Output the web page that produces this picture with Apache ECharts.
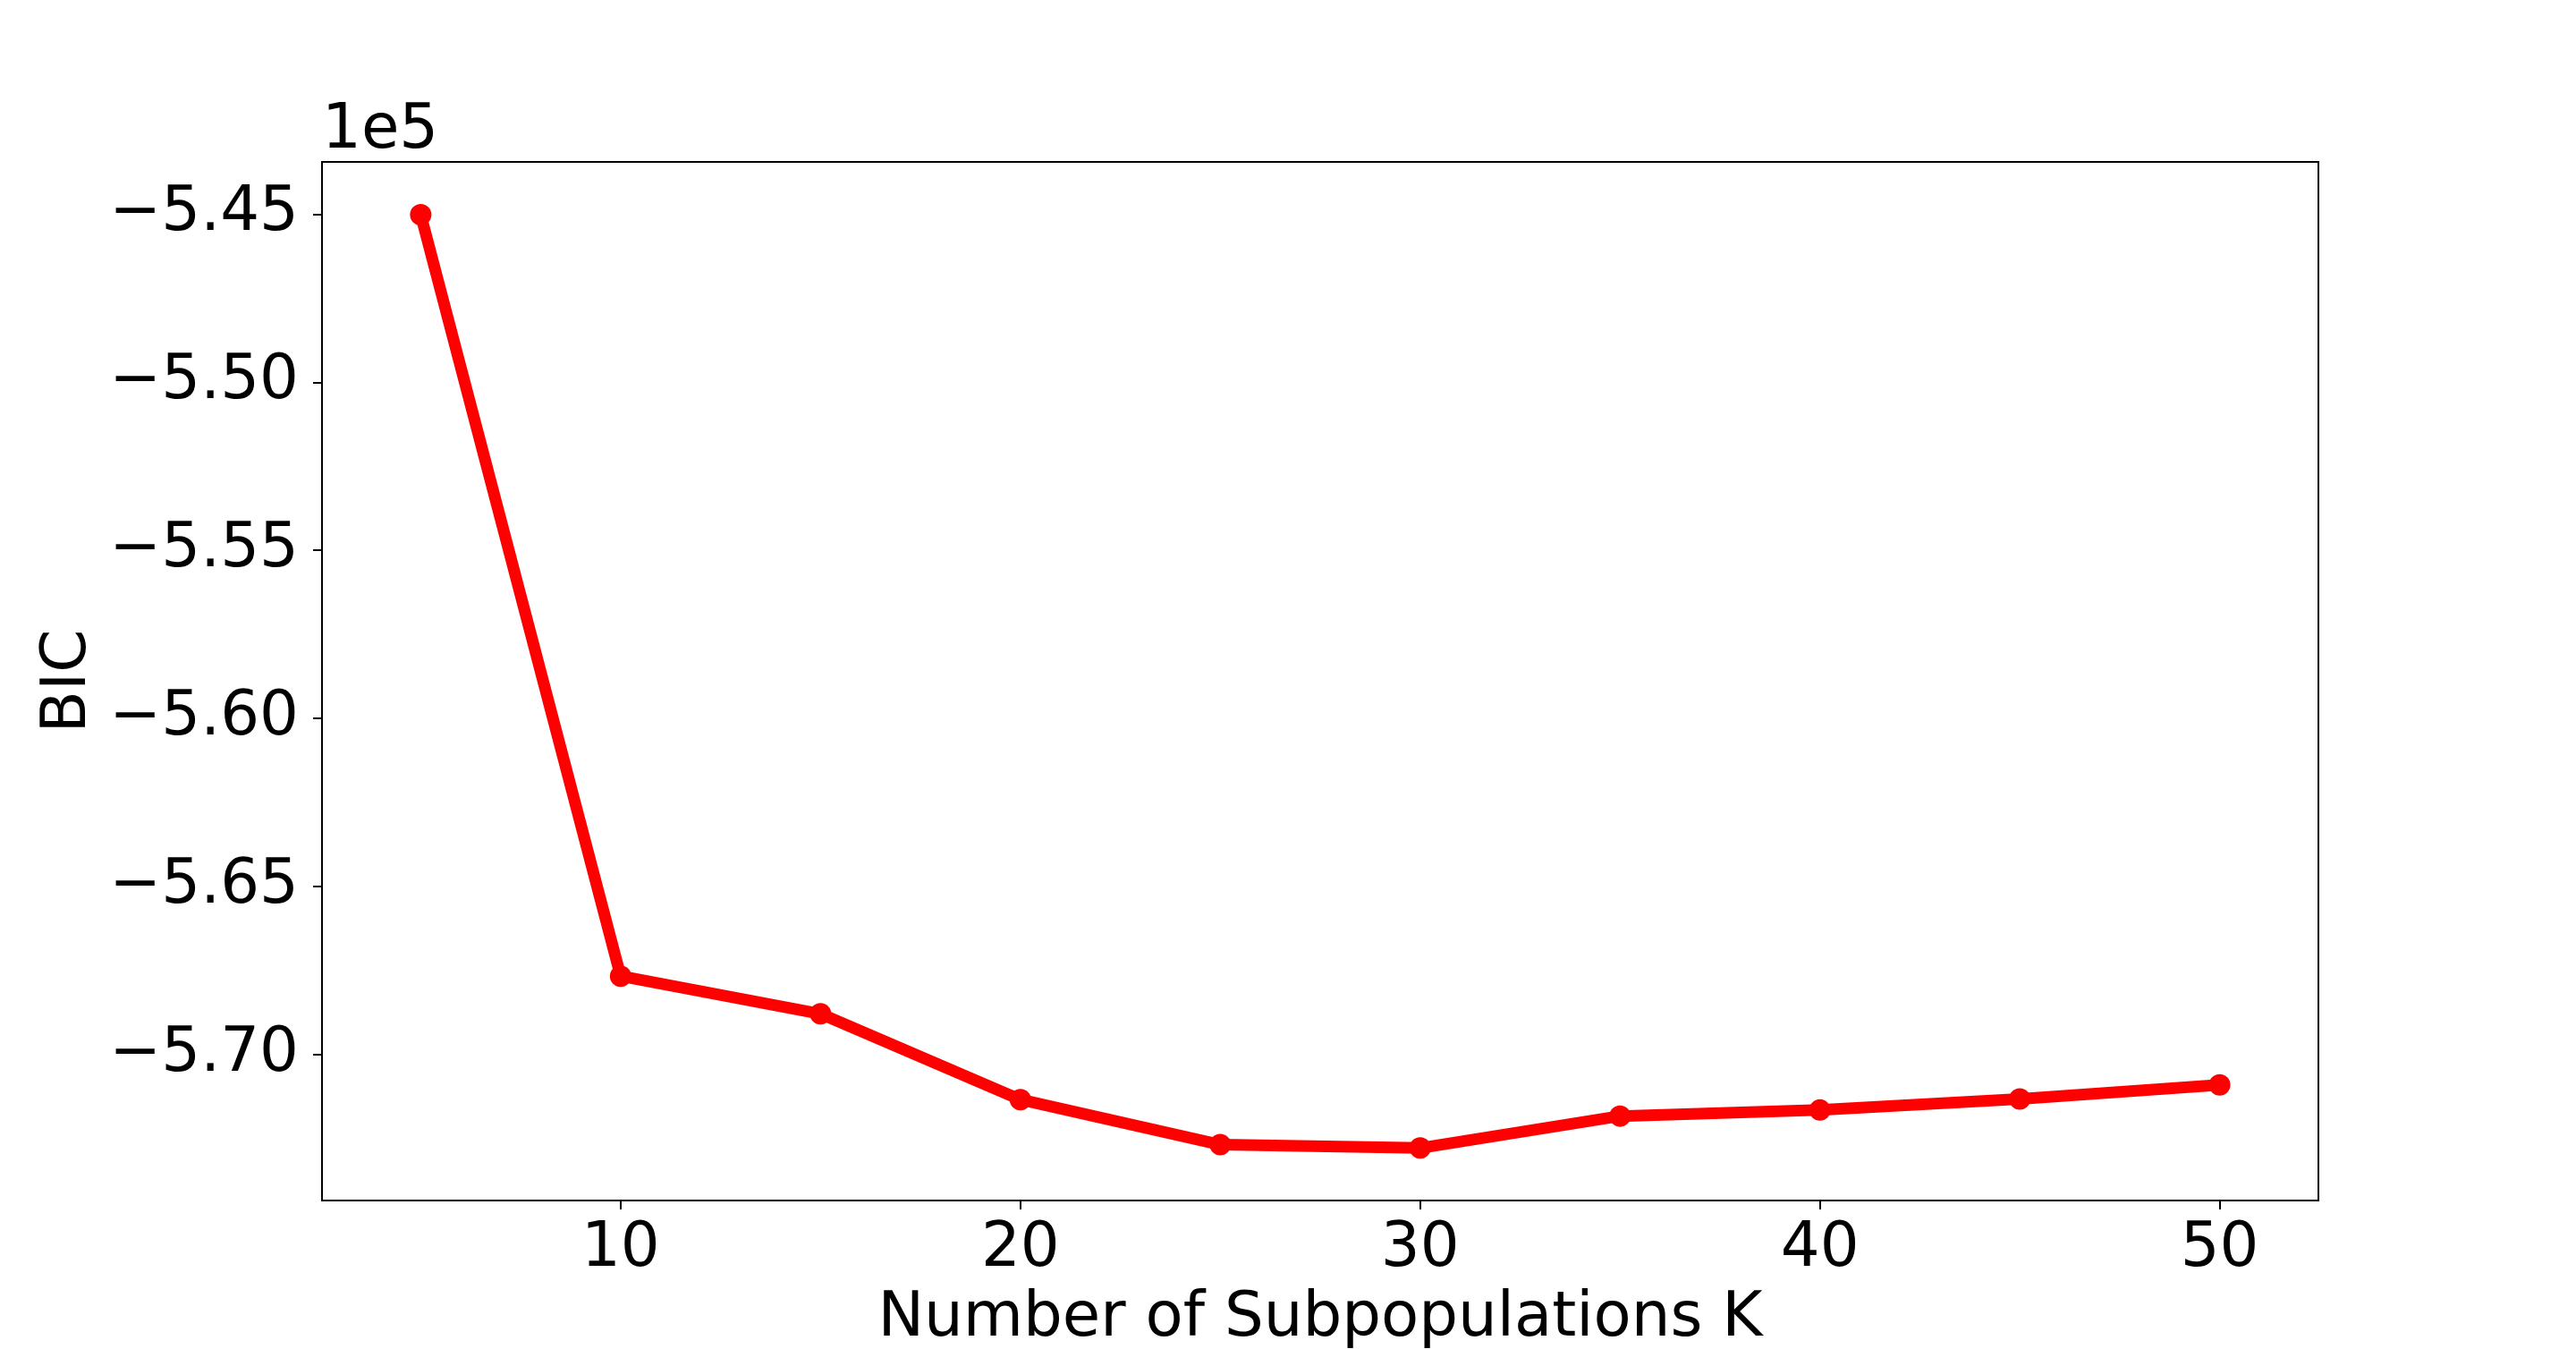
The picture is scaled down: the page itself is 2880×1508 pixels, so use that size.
<!DOCTYPE html>
<html>
<head>
<meta charset="utf-8">
<script src="https://cdn.jsdelivr.net/npm/echarts@6/dist/echarts.min.js"></script>
<style>
  html, body { margin: 0; padding: 0; background: #fff; }
  #chart { width: 2880px; height: 1508px; }
</style>
</head>
<body>
<div id="chart"></div>
<script>
// number of subpopulations K
const kValues = [5, 10, 15, 20, 25, 30, 35, 40, 45, 50];
// BIC for each K
const bicValues = [-545020, -567660, -568780, -571330, -572670, -572770, -571820, -571640, -571310, -570890];
// tick positions
const xTicks = [10, 20, 30, 40, 50];
const yTicks = [-570000, -565000, -560000, -555000, -550000, -545000];

const FONT = 'DejaVu Sans';
const FS = 69;

const chart = echarts.init(document.getElementById('chart'));

chart.setOption({
    animation: false,
    backgroundColor: '#ffffff',
    title: {
        text: '1e5',
        left: 360,
        top: 113,
        padding: 0,
        textStyle: { fontFamily: FONT, fontSize: FS, fontWeight: 'normal', color: '#000' },
    },
    grid: {
        left: 360,
        right: 288,
        top: 181,
        bottom: 166,
        show: true,
        borderColor: '#000',
        borderWidth: 2,
        containLabel: false,
        outerBoundsMode: 'none',
    },
    xAxis: {
        type: 'value',
        min: 2.53,
        max: 52.47,
        name: 'Number of Subpopulations K',
        nameLocation: 'middle',
        nameGap: 99,
        nameTextStyle: { fontFamily: FONT, fontSize: FS, color: '#000' },
        axisLine: { show: true, lineStyle: { color: '#000', width: 2 } },
        axisTick: { show: true, length: 10, lineStyle: { color: '#000', width: 2 }, customValues: xTicks },
        axisLabel: {
            fontFamily: FONT, fontSize: FS, color: '#000', margin: 21,
            customValues: xTicks,
        },
        splitLine: { show: false },
    },
    yAxis: {
        type: 'value',
        min: -574330,
        max: -543450,
        name: 'BIC',
        nameLocation: 'middle',
        nameRotate: 90,
        nameGap: 236,
        nameTextStyle: { fontFamily: FONT, fontSize: FS, color: '#000' },
        axisLine: { show: true, lineStyle: { color: '#000', width: 2 } },
        axisTick: { show: true, length: 10, lineStyle: { color: '#000', width: 2 }, customValues: yTicks },
        axisLabel: {
            fontFamily: FONT, fontSize: FS, color: '#000', margin: 26,
            customValues: yTicks,
            formatter: (v) => '\u2212' + Math.abs(v / 1e5).toFixed(2),
        },
        splitLine: { show: false },
    },
    series: [
        {
            type: 'line',
            data: kValues.map((k, i) => [k, bicValues[i]]),
            symbol: 'circle',
            symbolSize: 24,
            showAllSymbol: true,
            itemStyle: { color: '#ff0000' },
            lineStyle: { color: '#ff0000', width: 13 },
            z: 3,
        },
    ],
});
</script>
</body>
</html>
